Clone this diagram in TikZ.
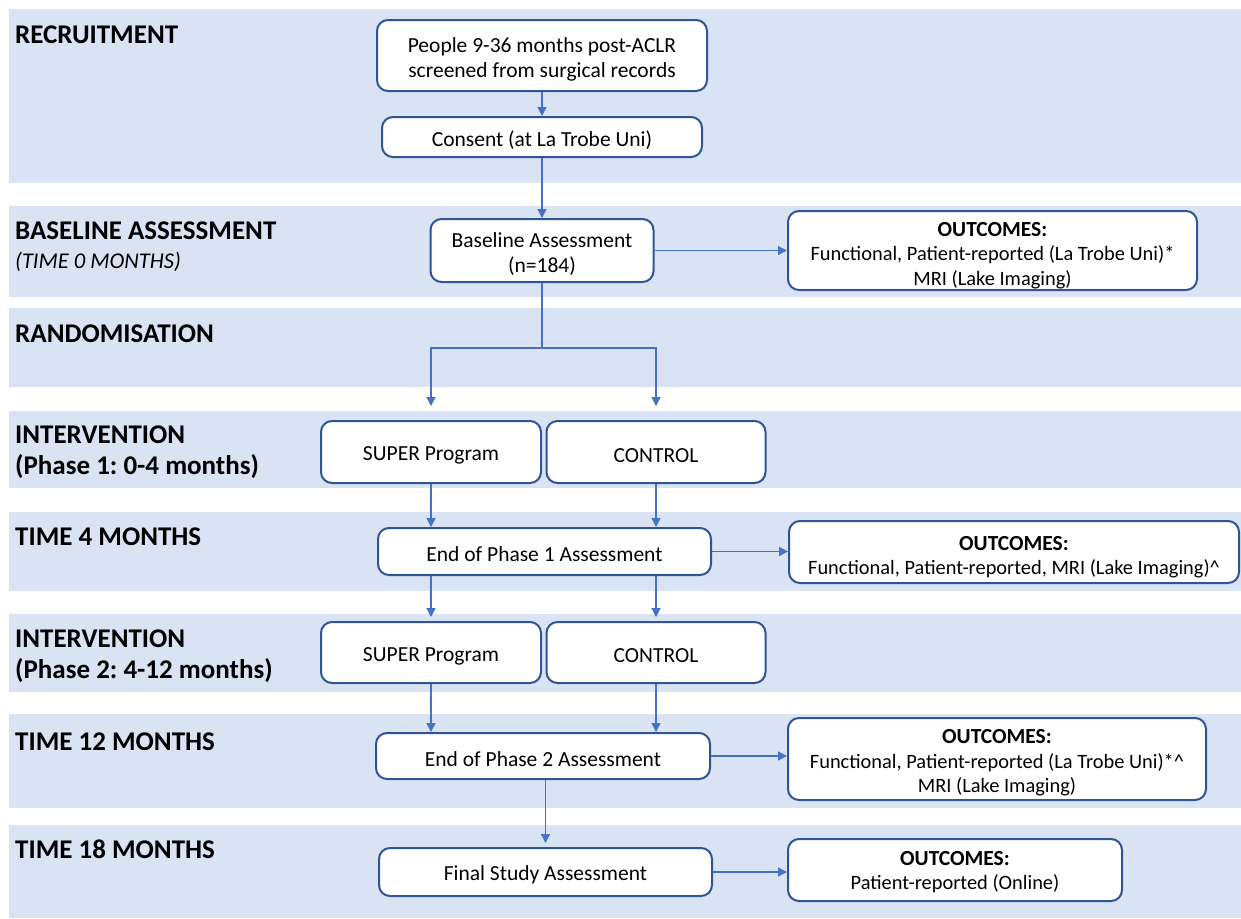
\documentclass[tikz,border=0pt]{standalone}
\usepackage{fontspec}
\setmainfont{Carlito}
\usetikzlibrary{arrows.meta,calc}
\definecolor{band}{HTML}{DAE3F3}
\definecolor{boxline}{HTML}{2F5597}
\definecolor{arrowc}{HTML}{4472C4}
\newcommand\lowstrut[1]{\rule{0pt}{#1}}
\frenchspacing
\begin{document}
\begin{tikzpicture}[x=1pt,y=-1pt,
  box/.style={draw=boxline, line width=2pt, rounded corners=11pt, fill=white, align=center, inner sep=0pt, font=\fontsize{21.5}{25}\selectfont},
  onebox/.style={box, execute at begin node={\lowstrut{21pt}}},
  outbox/.style={box, font=\fontsize{20.4}{24.5}\selectfont},
  lbl/.style={anchor=base west, inner sep=0pt, font=\fontsize{27}{30}\selectfont\bfseries},
  sublbl/.style={anchor=base west, inner sep=0pt, font=\fontsize{22.5}{26}\selectfont\itshape},
  conn/.style={draw=arrowc, line width=1.3pt, -{Triangle[length=9pt,width=9pt]}},
  plainline/.style={draw=arrowc, line width=1.3pt}]
\useasboundingbox (0,0) rectangle (1241,918);
\fill[white] (0,0) rectangle (1241,918);
% bands
\fill[band] (9,9) rectangle (1241,183);
\fill[band] (9,206) rectangle (1241,297);
\fill[band] (9,308) rectangle (1241,387);
\fill[band] (9,411) rectangle (1241,488);
\fill[band] (9,512) rectangle (1241,591);
\fill[band] (9,614) rectangle (1241,692);
\fill[band] (9,714) rectangle (1241,808);
\fill[band] (9,825) rectangle (1241,918);
% left labels
\node[lbl] (l1) at (15,43) {RECRUITMENT};
\node[lbl] (l2) at (15,239) {BASELINE ASSESSMENT};
\node[sublbl] (l2b) at (15,268) {(TIME 0 MONTHS)};
\node[lbl] (l3) at (15,342) {RANDOMISATION};
\node[lbl] (l4) at (15,443) {INTERVENTION};
\node[lbl] (l4b) at (15,474) {(Phase 1: 0-4 months)};
\node[lbl] (l5) at (15,545) {TIME 4 MONTHS};
\node[lbl] (l6) at (15,647) {INTERVENTION};
\node[lbl] (l6b) at (15,678) {(Phase 2: 4-12 months)};
\node[lbl] (l7) at (15,750) {TIME 12 MONTHS};
\node[lbl] (l8) at (15,858) {TIME 18 MONTHS};
% boxes
\node[box, minimum width=330pt, minimum height=71pt] (screen) at (542,55.5) {\lowstrut{22pt}People 9-36 months post-ACLR\\screened from surgical records};
\node[onebox, minimum width=320pt, minimum height=40pt] (consent) at (542,137) {Consent (at La Trobe Uni)};
\node[box, minimum width=223pt, minimum height=63pt] (base) at (542,250.5) {\lowstrut{22pt}Baseline Assessment\\(n=184)};
\node[outbox, minimum width=409pt, minimum height=79pt] (out0) at (992.5,250.5) {\lowstrut{24pt}{\fontsize{21.5}{24.5}\selectfont\textbf{OUTCOMES:}}\\Functional, Patient-reported (La Trobe Uni)*\\MRI (Lake Imaging)};
\node[onebox, minimum width=220pt, minimum height=62pt] (super1) at (431,452) {SUPER Program};
\node[onebox, minimum width=219pt, minimum height=62pt] (ctrl1) at (656,452) {CONTROL};
\node[onebox, minimum width=333pt, minimum height=47pt] (end1) at (544.5,551.5) {End of Phase 1 Assessment};
\node[outbox, minimum width=450pt, minimum height=62pt] (out1) at (1014,552) {\lowstrut{24pt}{\fontsize{21.5}{23.5}\selectfont\textbf{OUTCOMES:}}\\Functional, Patient-reported, MRI (Lake Imaging)\textasciicircum};
\node[onebox, minimum width=220pt, minimum height=61pt] (super2) at (431,652.5) {SUPER Program};
\node[onebox, minimum width=219pt, minimum height=61pt] (ctrl2) at (656,652.5) {CONTROL};
\node[onebox, minimum width=334pt, minimum height=46pt] (end2) at (543,756) {End of Phase 2 Assessment};
\node[outbox, minimum width=418pt, minimum height=82pt] (out2) at (997,759) {\lowstrut{22pt}{\fontsize{21.5}{25}\selectfont\textbf{OUTCOMES:}}\\Functional, Patient-reported (La Trobe Uni)*\textasciicircum\\MRI (Lake Imaging)};
\node[onebox, minimum width=333pt, minimum height=48pt] (final) at (545.5,872) {Final Study Assessment};
\node[outbox, minimum width=334pt, minimum height=62pt] (out3) at (955,870) {\lowstrut{18pt}{\fontsize{21.5}{25}\selectfont\textbf{OUTCOMES:}}\\Patient-reported (Online)};
% connectors
\draw[conn] (screen) -- (consent);
\draw[conn] (consent) -- (base);
\coordinate (split) at (542,348);
\draw[plainline] (base.south) -- (split);
\draw[conn, shorten >=14pt] (split) -| (super1.north);
\draw[conn, shorten >=14pt] (split) -| (ctrl1.north);
\draw[conn] (super1.south) -- (super1.south |- end1.north);
\draw[conn] (ctrl1.south) -- (ctrl1.south |- end1.north);
\draw[conn, shorten >=4pt] (super2.north |- end1.south) -- (super2.north);
\draw[conn, shorten >=4pt] (ctrl2.north |- end1.south) -- (ctrl2.north);
\draw[conn] (super2.south) -- (super2.south |- end2.north);
\draw[conn] (ctrl2.south) -- (ctrl2.south |- end2.north);
\draw[conn, shorten >=4pt] (final.north |- end2.south) -- (final.north);
\draw[conn] (base.east) -- (base.east -| out0.west);
\draw[conn] (end1.east) -- (end1.east -| out1.west);
\draw[conn] (end2.east) -- (end2.east -| out2.west);
\draw[conn] (final.east) -- (final.east -| out3.west);
\end{tikzpicture}
\end{document}
